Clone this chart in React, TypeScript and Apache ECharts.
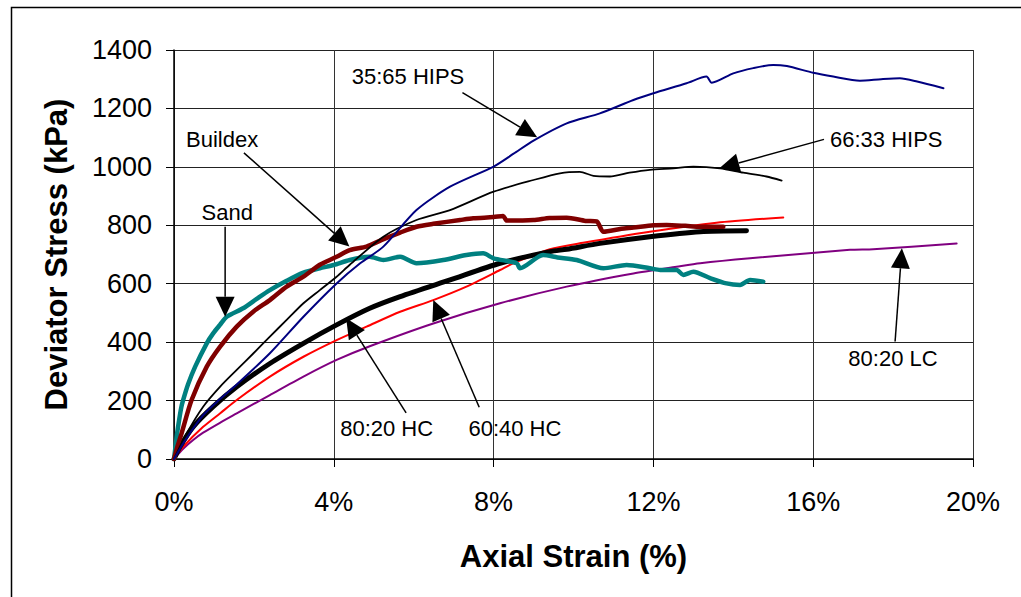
import React, { useEffect, useRef } from "react";
import * as echarts from "echarts";

// Axis ticks
const strainTicks = [0, 4, 8, 12, 16, 20];
const stressTicks = [0, 200, 400, 600, 800, 1000, 1200, 1400];

// Stress-strain curves: [axial strain %, deviator stress kPa]
const sand: [number, number][] = [
  [0, 0], [0.04, 45], [0.08, 90], [0.13, 135], [0.18, 175], [0.23, 202], [0.35, 255], [0.53, 316],
  [0.82, 396], [0.98, 430], [1.15, 459], [1.32, 487], [1.73, 516], [2.07, 548], [2.4, 578],
  [2.82, 610], [3.24, 638], [3.65, 653], [4.0, 664], [4.4, 681], [4.9, 692], [5.24, 681], [5.66, 692],
  [6.07, 670], [6.74, 681], [7.32, 698], [7.74, 704], [8.0, 687], [8.58, 670], [8.66, 653],
  [9.24, 698], [9.6, 690], [10.08, 681], [10.75, 653], [11.33, 664], [11.91, 653], [12.17, 647],
  [12.58, 647], [12.75, 630], [13.0, 641], [13.42, 619], [13.83, 601], [14.17, 596], [14.42, 613],
  [14.75, 607],
];

const buildex: [number, number][] = [
  [0, 0], [0.08, 40], [0.19, 88], [0.44, 202], [0.82, 316], [1.15, 384], [1.57, 453], [1.99, 505],
  [2.4, 544], [2.82, 590], [3.24, 624], [3.65, 665], [4.07, 692], [4.4, 715], [4.82, 727], [5.2, 750],
  [5.66, 775], [6.07, 795], [6.49, 805], [7.16, 818], [7.49, 824], [8.0, 828], [8.24, 832],
  [8.33, 816], [9.0, 818], [9.4, 825], [9.83, 826], [10.3, 815], [10.58, 813], [10.75, 778],
  [11.2, 788], [11.5, 792], [12.0, 800], [12.33, 801], [12.8, 798], [13.17, 795], [13.75, 795],
];

const hips3565: [number, number][] = [
  [0, 0], [0.3, 68], [0.73, 150], [1.15, 205], [1.57, 255], [2.4, 362], [3.24, 487], [4.07, 601],
  [4.66, 670], [5.24, 727], [6.07, 852], [6.91, 932], [8.0, 1001], [8.5, 1045], [9.0, 1090],
  [9.83, 1149], [10.66, 1183], [11.5, 1229], [12.0, 1252], [12.83, 1286], [13.33, 1309], [13.46, 1288],
  [14.0, 1320], [14.5, 1338], [15.0, 1349], [15.34, 1345], [16.0, 1322], [16.5, 1309], [17.17, 1295],
  [17.7, 1300], [18.17, 1303], [18.6, 1292], [19.26, 1269],
];

const hips6633: [number, number][] = [
  [0, 0], [0.32, 88], [0.73, 179], [1.15, 247], [1.57, 305], [1.99, 362], [2.4, 419], [2.82, 476],
  [3.24, 533], [3.65, 578], [4.07, 624], [4.4, 665], [5.24, 761], [6.07, 818], [6.91, 852], [8.0, 915],
  [9.0, 955], [9.66, 978], [10.16, 983], [10.5, 969], [10.91, 967], [11.4, 980], [11.91, 990],
  [12.5, 995], [13.0, 1001], [13.67, 995], [14.25, 980], [14.83, 967], [15.21, 953],
];

const hc8020: [number, number][] = [
  [0, 0], [0.15, 42], [0.48, 110], [0.98, 179], [1.57, 247], [2.4, 327], [3.24, 396], [4.07, 459],
  [4.9, 516], [5.66, 556], [6.91, 613], [8.16, 670], [9.41, 710], [9.83, 718], [10.66, 738],
  [11.91, 761], [13.17, 778], [14.33, 781],
];

const hc6040: [number, number][] = [
  [0, 0], [0.23, 42], [0.73, 110], [1.15, 156], [1.57, 202], [2.4, 282], [3.24, 350], [4.07, 407],
  [4.82, 453], [5.66, 504], [6.49, 544], [7.32, 590], [8.16, 647], [8.49, 670], [9.41, 718],
  [10.24, 740], [11.91, 778], [13.58, 809], [15.25, 827],
];

const lc8020: [number, number][] = [
  [0, 0], [0.23, 35], [0.48, 65], [0.73, 90], [1.15, 124], [1.57, 156], [2.4, 219], [3.24, 282],
  [4.07, 339], [4.9, 386], [6.49, 464], [8.16, 533], [9.83, 590], [11.5, 635], [12.58, 658],
  [13.17, 670], [14.42, 687], [16.92, 716], [17.5, 718], [19.59, 738],
];

// Callouts: label anchor (left-middle), arrow tail and arrow tip, in data units
const callouts = [
  { text: "35:65 HIPS", at: [4.45, 1309], from: [7.22, 1254], to: [9.09, 1101] },
  { text: "66:33 HIPS", at: [16.42, 1094], from: [16.27, 1094], to: [13.65, 995] },
  { text: "Buildex", at: [0.3, 1094], from: [1.75, 1048], to: [4.39, 727] },
  { text: "Sand", at: [0.69, 844], from: [1.28, 795], to: [1.28, 487] },
  { text: "80:20 HC", at: [4.16, 105], from: [5.81, 158], to: [4.31, 482] },
  { text: "60:40 HC", at: [7.37, 105], from: [7.64, 177], to: [6.49, 544] },
  { text: "80:20 LC", at: [16.88, 345], from: [18.05, 402], to: [18.22, 721] },
];

const FONT = "'Liberation Sans', Arial, Helvetica, sans-serif";

export default function App() {
  const ref = useRef<HTMLDivElement>(null);

  useEffect(() => {
    if (!ref.current) return;
    const chart = echarts.init(ref.current, null, { renderer: "svg" });

    const line = (name: string, data: [number, number][], color: string, width: number) => ({
      name,
      type: "line",
      data,
      showSymbol: false,
      symbol: "none",
      smooth: 0.25,
      lineStyle: { color, width, join: "round", cap: "round" },
      emphasis: { disabled: true },
    });

    chart.setOption({
      animation: false,
      backgroundColor: "#ffffff",
      grid: { left: 174, top: 50, width: 799, height: 409, containLabel: false },
      xAxis: {
        type: "value",
        min: 0,
        max: strainTicks[strainTicks.length - 1],
        interval: 4,
        name: "Axial Strain (%)",
        nameLocation: "middle",
        nameGap: 82,
        nameTextStyle: { fontFamily: FONT, fontSize: 31, fontWeight: "bold", color: "#000" },
        axisLine: { show: true, onZero: false, lineStyle: { color: "#000", width: 1.5 } },
        axisTick: { show: true, length: 8, lineStyle: { color: "#000", width: 1 } },
        axisLabel: {
          formatter: (v: number) => `${v}%`,
          fontFamily: FONT,
          fontSize: 27,
          color: "#000",
          margin: 29,
        },
        splitLine: { show: true, lineStyle: { color: "#333", width: 1 } },
      },
      yAxis: {
        type: "value",
        min: 0,
        max: stressTicks[stressTicks.length - 1],
        interval: 200,
        name: "Deviator Stress (kPa)",
        nameLocation: "middle",
        nameGap: 102,
        nameTextStyle: { fontFamily: FONT, fontSize: 31, fontWeight: "bold", color: "#000" },
        axisLine: { show: true, lineStyle: { color: "#000", width: 1.5 } },
        axisTick: { show: true, length: 8, lineStyle: { color: "#000", width: 1 } },
        axisLabel: {
          formatter: (v: number) => String(v),
          fontFamily: FONT,
          fontSize: 27,
          color: "#000",
          margin: 22,
        },
        splitLine: { show: true, lineStyle: { color: "#222", width: 1 } },
      },
      series: [
        line("80:20 LC", lc8020, "#800080", 2),
        line("60:40 HC", hc6040, "#ff0000", 2),
        line("80:20 HC", hc8020, "#000000", 5),
        line("Sand", sand, "#008080", 4.5),
        line("Buildex", buildex, "#800000", 4.5),
        line("66:33 HIPS", hips6633, "#000000", 1.8),
        line("35:65 HIPS", hips3565, "#000080", 2),
      ],
    });

    const px = (p: number[]) => chart.convertToPixel({ gridIndex: 0 }, p) as number[];
    const headLen = 20;
    const headHalf = 9.5;

    const elements: any[] = [
      {
        type: "rect",
        left: 9,
        top: 5,
        shape: { width: 1200, height: 800 },
        style: { fill: "none", stroke: "#000", lineWidth: 1.5 },
        silent: true,
      },
    ];

    callouts.forEach((c) => {
      const a = px(c.at);
      const t = px(c.from);
      const h = px(c.to);
      const dx = h[0] - t[0];
      const dy = h[1] - t[1];
      const len = Math.hypot(dx, dy);
      const ux = dx / len;
      const uy = dy / len;
      const bx = h[0] - ux * headLen;
      const by = h[1] - uy * headLen;
      elements.push({
        type: "line",
        shape: { x1: t[0], y1: t[1], x2: bx, y2: by },
        style: { stroke: "#000", lineWidth: 1.5 },
        z: 100,
      });
      elements.push({
        type: "polygon",
        shape: {
          points: [
            [h[0], h[1]],
            [bx - uy * headHalf, by + ux * headHalf],
            [bx + uy * headHalf, by - ux * headHalf],
          ],
        },
        style: { fill: "#000" },
        z: 100,
      });
      elements.push({
        type: "text",
        x: a[0],
        y: a[1],
        style: {
          text: c.text,
          fontFamily: FONT,
          fontSize: 22,
          fill: "#000",
          align: "left",
          verticalAlign: "middle",
        },
        z: 100,
      });
    });

    chart.setOption({ graphic: elements });

    return () => chart.dispose();
  }, []);

  return (
    <div
      ref={ref}
      style={{ position: "fixed", left: 0, top: 0, width: 1021, height: 597, background: "#fff" }}
    />
  );
}
